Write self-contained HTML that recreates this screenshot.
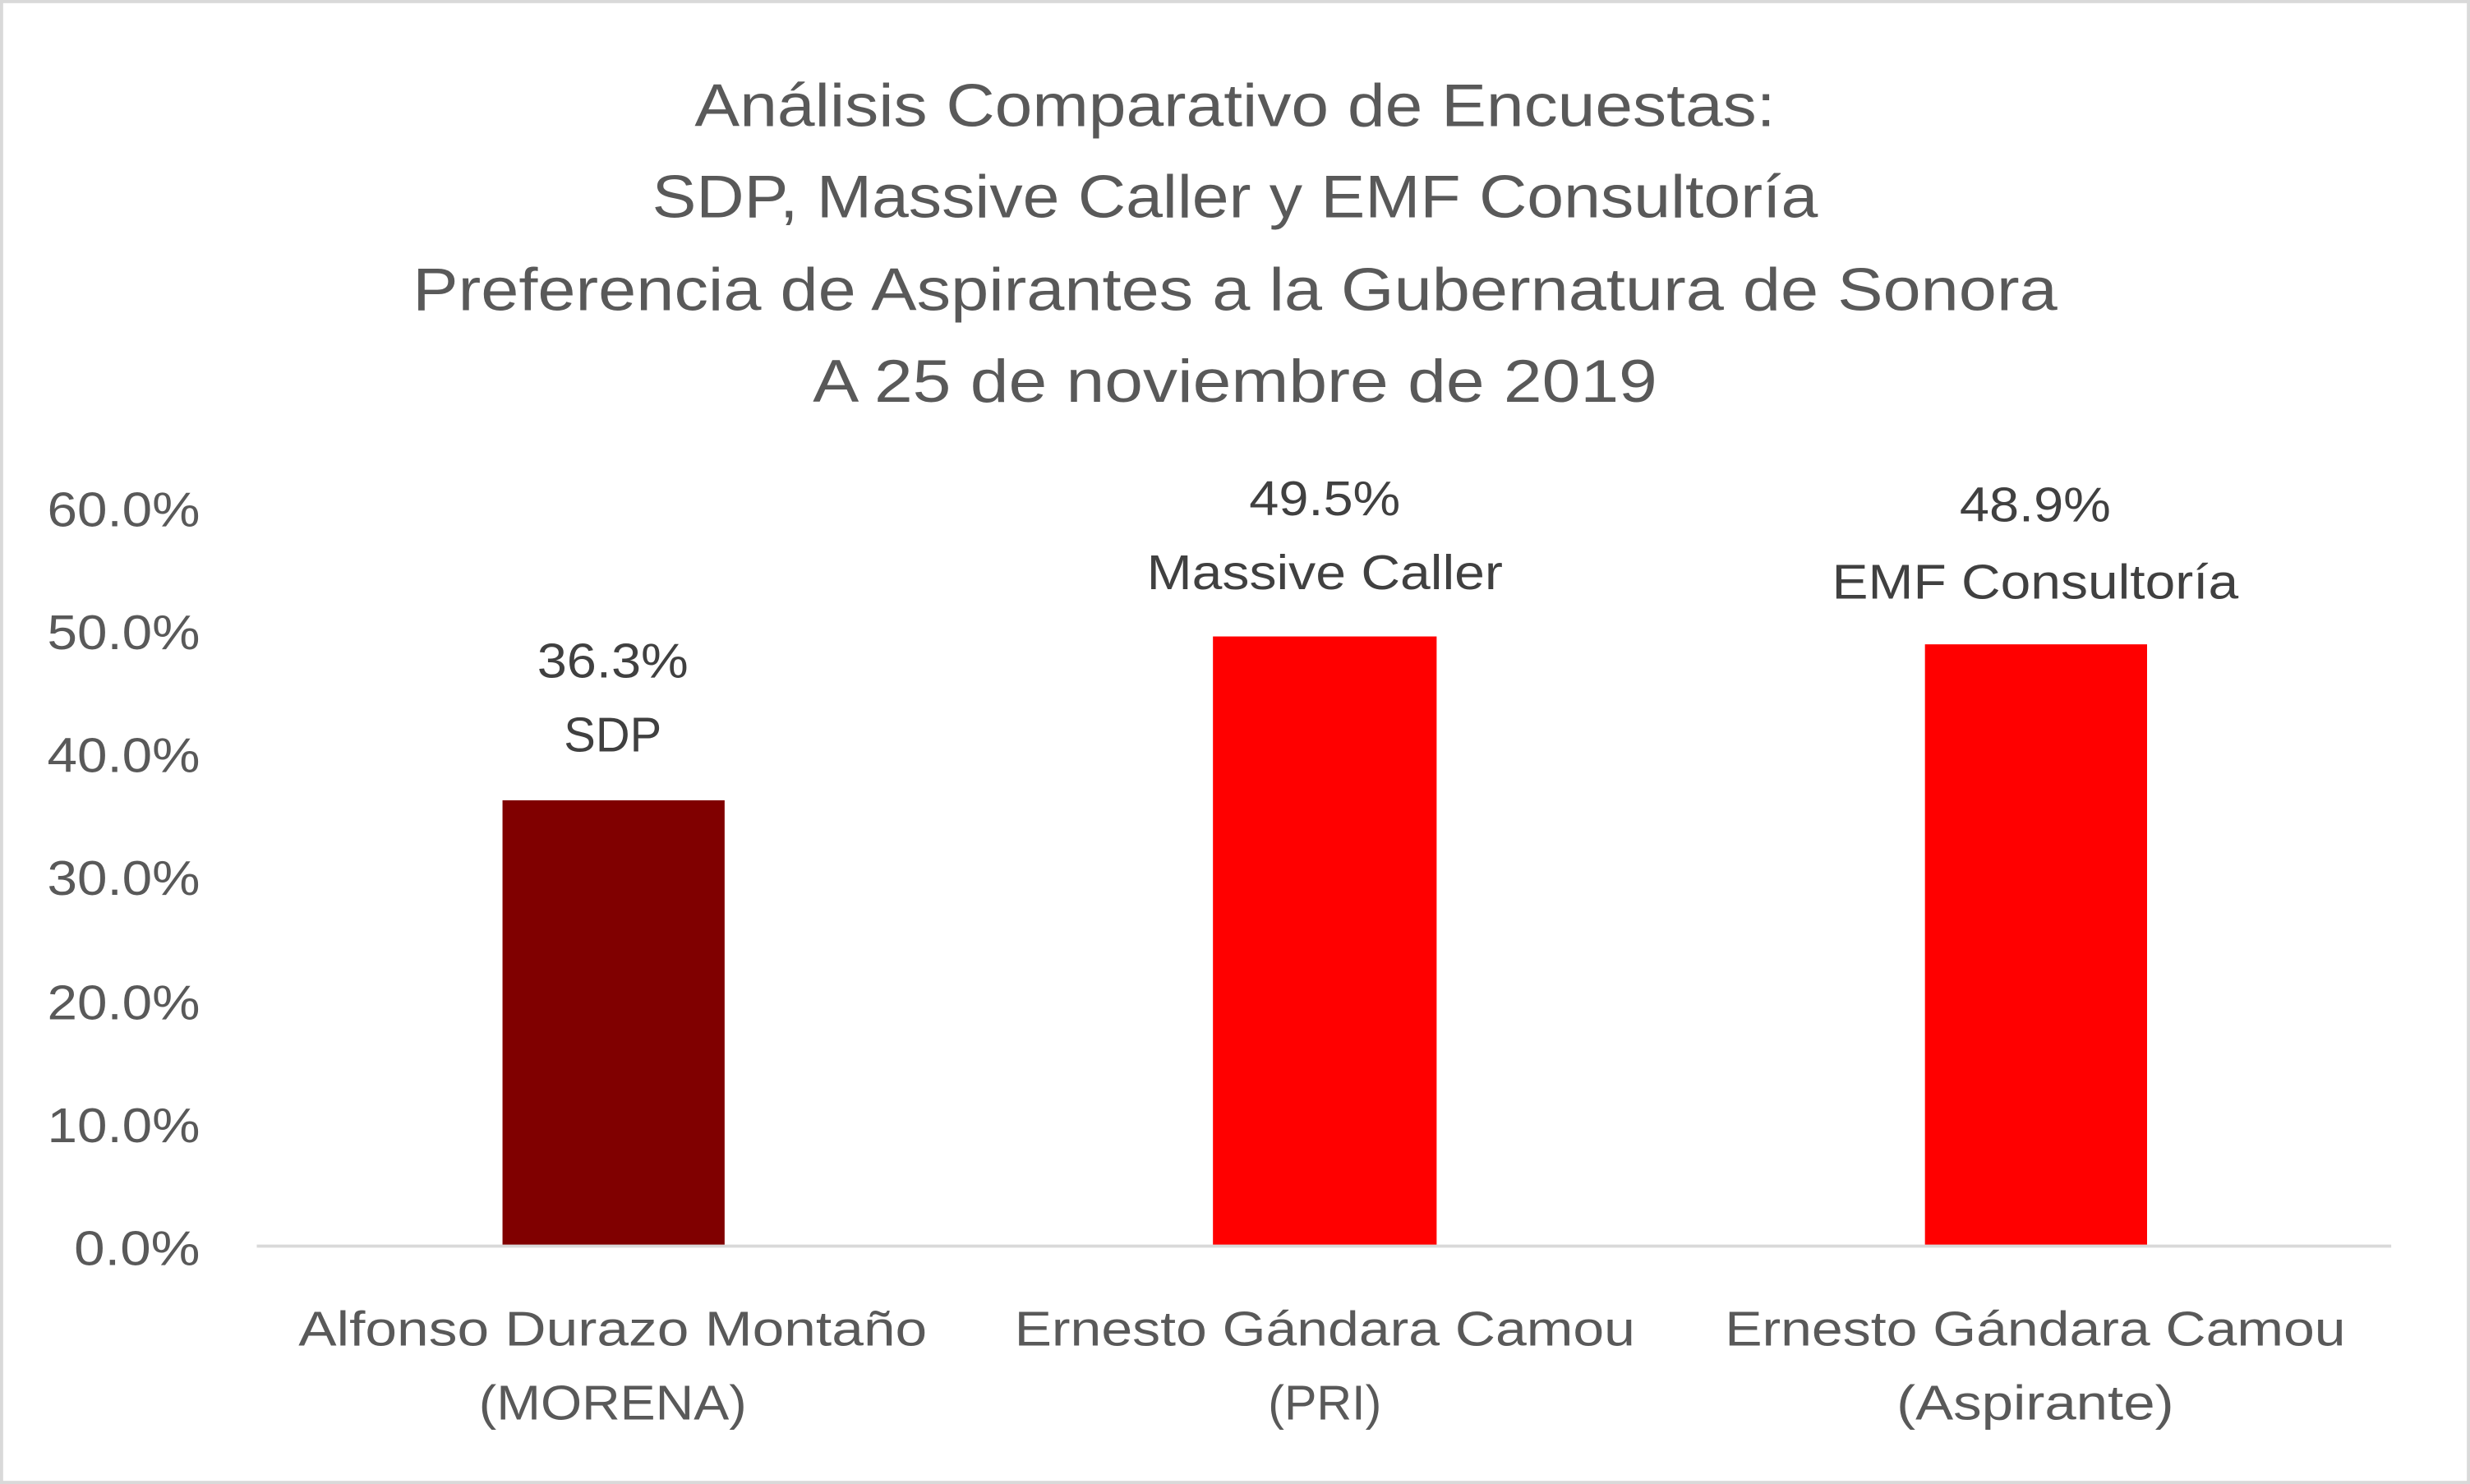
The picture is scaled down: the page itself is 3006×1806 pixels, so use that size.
<!DOCTYPE html>
<html><head><meta charset="utf-8"><style>
html,body{margin:0;padding:0;background:#fff;}
svg{display:block;}
text{font-family:"Liberation Sans",sans-serif;}
</style></head><body>
<svg width="3006" height="1806" viewBox="0 0 1568 942" preserveAspectRatio="none" xmlns="http://www.w3.org/2000/svg">
<rect x="0" y="0" width="1568" height="942" fill="#fff"/>
<rect x="1" y="1" width="1566" height="940" fill="none" stroke="#d9d9d9" stroke-width="2"/>
<g fill="#595959" font-size="38" text-anchor="middle">
<text x="784" y="80" textLength="686" lengthAdjust="spacingAndGlyphs">Análisis Comparativo de Encuestas:</text>
<text x="784" y="138" textLength="740" lengthAdjust="spacingAndGlyphs">SDP, Massive Caller y EMF Consultoría</text>
<text x="784" y="197" textLength="1044" lengthAdjust="spacingAndGlyphs">Preferencia de Aspirantes a la Gubernatura de Sonora</text>
<text x="784" y="255" textLength="536" lengthAdjust="spacingAndGlyphs">A 25 de noviembre de 2019</text>
</g>
<g fill="#595959" font-size="31" text-anchor="end">
<text x="127" y="334" textLength="97" lengthAdjust="spacingAndGlyphs">60.0%</text>
<text x="127" y="412" textLength="97" lengthAdjust="spacingAndGlyphs">50.0%</text>
<text x="127" y="490" textLength="97" lengthAdjust="spacingAndGlyphs">40.0%</text>
<text x="127" y="568" textLength="97" lengthAdjust="spacingAndGlyphs">30.0%</text>
<text x="127" y="647" textLength="97" lengthAdjust="spacingAndGlyphs">20.0%</text>
<text x="127" y="725" textLength="97" lengthAdjust="spacingAndGlyphs">10.0%</text>
<text x="127" y="803" textLength="80" lengthAdjust="spacingAndGlyphs">0.0%</text>
</g>
<rect x="319" y="508" width="141" height="283" fill="#800000"/>
<rect x="770" y="404" width="142" height="387" fill="#ff0000"/>
<rect x="1222" y="409" width="141" height="382" fill="#ff0000"/>
<line x1="163" y1="791" x2="1518" y2="791" stroke="#d9d9d9" stroke-width="2"/>
<g fill="#404040" font-size="31" text-anchor="middle">
<text x="389" y="430" textLength="96" lengthAdjust="spacingAndGlyphs">36.3%</text>
<text x="389" y="477" textLength="62" lengthAdjust="spacingAndGlyphs">SDP</text>
<text x="841" y="327" textLength="96" lengthAdjust="spacingAndGlyphs">49.5%</text>
<text x="841" y="374" textLength="226" lengthAdjust="spacingAndGlyphs">Massive Caller</text>
<text x="1292" y="331" textLength="96" lengthAdjust="spacingAndGlyphs">48.9%</text>
<text x="1292" y="380" textLength="258" lengthAdjust="spacingAndGlyphs">EMF Consultoría</text>
</g>
<g fill="#595959" font-size="31" text-anchor="middle">
<text x="389" y="854" textLength="399" lengthAdjust="spacingAndGlyphs">Alfonso Durazo Montaño</text>
<text x="389" y="901" textLength="170" lengthAdjust="spacingAndGlyphs">(MORENA)</text>
<text x="841" y="854" textLength="394" lengthAdjust="spacingAndGlyphs">Ernesto  Gándara Camou</text>
<text x="841" y="901" textLength="72" lengthAdjust="spacingAndGlyphs">(PRI)</text>
<text x="1292" y="854" textLength="394" lengthAdjust="spacingAndGlyphs">Ernesto  Gándara Camou</text>
<text x="1292" y="901" textLength="176" lengthAdjust="spacingAndGlyphs">(Aspirante)</text>
</g>
</svg>
</body></html>
